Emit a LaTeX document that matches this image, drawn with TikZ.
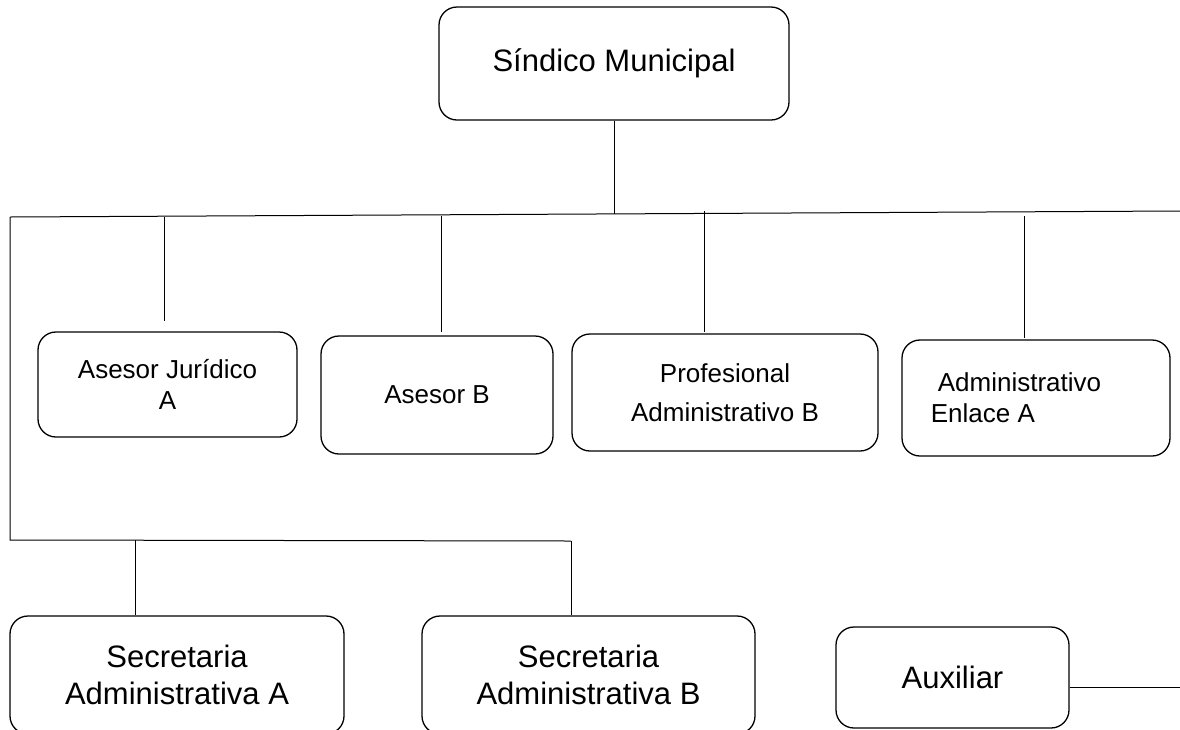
\documentclass[tikz,border=0pt]{standalone}
\usepackage{fontspec}
\setmainfont{Liberation Sans}
\begin{document}
\begin{tikzpicture}[x=1pt,y=-1pt,
  orgbox/.style={draw,line width=1.3pt,rounded corners=18pt,inner sep=0pt,align=center},
  conn/.style={line width=1pt},
  small/.style={font=\fontsize{26}{31}\selectfont},
  big/.style={font=\fontsize{31}{37}\selectfont}]
\useasboundingbox (0,0) rectangle (1180,729);
\clip (0,0) rectangle (1180,729);
\fill[white] (0,0) rectangle (1180,729);

% boxes
\node[orgbox,big,minimum width=350pt,minimum height=113pt] (sind) at (614,63.5) {Síndico Municipal};
\node[orgbox,small,minimum width=259pt,minimum height=105pt] (jur) at (167.5,384.5) {Asesor Jurídico\\A};
\node[orgbox,small,minimum width=232pt,minimum height=118pt] (aseb) at (437,395) {Asesor B};
\node[orgbox,small,minimum width=306pt,minimum height=117pt,font=\fontsize{26}{39}\selectfont] (prof) at (725,392.5) {Profesional\\Administrativo B};
\node[orgbox,small,minimum width=268pt,minimum height=116pt,align=left] (enl) at (1036,398) {\hspace*{7pt}Administrativo\hspace*{40pt}\\Enlace A};
\node[orgbox,big,minimum width=334pt,minimum height=118pt] (seca) at (177,675) {Secretaria\\Administrativa A};
\node[orgbox,big,minimum width=333pt,minimum height=118pt] (secb) at (588.5,675) {Secretaria\\Administrativa B};
\node[orgbox,big,minimum width=233pt,minimum height=101pt] (aux) at (952.5,677.5) {Auxiliar};

% bus coordinates
\coordinate (barL) at (10,217);
\coordinate (barR) at (1180,211);
\coordinate (barS) at (614,214);
\coordinate (d1top) at (164,217);
\coordinate (d1bot) at (164,321);
\coordinate (d2top) at (441,216);
\coordinate (d2bot) at (441,332);
\coordinate (d3top) at (704,211);
\coordinate (d3bot) at (704,332);
\coordinate (d4top) at (1024,216);
\coordinate (d4bot) at (1024,338);
\coordinate (lowL) at (10,540);
\coordinate (lowR) at (571,541);
\coordinate (lowA) at (135,540);
\coordinate (auxEnd) at (1180,687);

% connectors
\draw[conn] (sind.south) -- (barS);
\draw[conn] (barL) -- (barR);
\draw[conn] (d1top) -- (d1bot);
\draw[conn] (d2top) -- (d2bot);
\draw[conn] (d3top) -- (d3bot);
\draw[conn] (d4top) -- (d4bot);
\draw[conn] (barL) -- (lowL) -- (lowR);
\draw[conn] (lowA) -- (lowA |- seca.north);
\draw[conn] (lowR) -- (lowR |- secb.north);
\draw[conn] (aux.east |- auxEnd) -- (auxEnd);
\end{tikzpicture}
\end{document}
